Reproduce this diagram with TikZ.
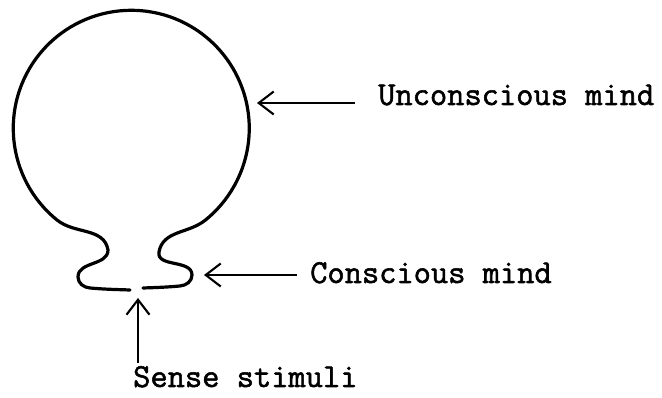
\documentclass[tikz,border=0pt]{standalone}
\usepackage{fontspec}
\newfontfamily\typewriter{Latin Modern Mono}[FakeBold=1.6]
\usetikzlibrary{arrows.meta}
\tikzset{balloon/.style={line width=3.2pt, line cap=round, line join=round}}
\tikzset{pointer/.style={-{Straight Barb[length=15pt, width=23pt]}, line width=2.1pt}}
\tikzset{typed/.style={font=\typewriter\fontsize{33.5}{38}\selectfont, inner sep=0pt, anchor=base west}}

\begin{document}
\begin{tikzpicture}[x=1pt, y=1pt]
  \useasboundingbox (0,0) rectangle (662,398);

  % the balloon: big circle, narrow neck, two small lobes
  \draw[balloon] (130,108) to[out=178, in=-5] (90,110) to[out=175, in=-90] (78,121)
    to[out=90, in=-90] (108,148) to[out=100, in=-39] (57,178)
    arc[start angle=231, end angle=-51, radius=118pt]
    to[out=219, in=80] (159,146) to[out=-100, in=90] (192,123)
    to[out=-90, in=5] (180,112) to[out=185, in=2] (143,110);

  \node[typed] (unc) at (378,293) {Unconscious mind};
  \node[typed] (con) at (310,115) {Conscious mind};
  \node[typed] (sense) at (133,11) {Sense stimuli};

  \coordinate (unctail) at (355,295);
  \coordinate (unctip) at (257,295);
  \coordinate (contail) at (297,123);
  \coordinate (contip) at (204,123);
  \coordinate (sensetail) at (138,35);
  \coordinate (sensetip) at (138,100);

  \draw[pointer] (unctail) -- (unctip);
  \draw[pointer] (contail) -- (contip);
  \draw[pointer] (sensetail) -- (sensetip);
\end{tikzpicture}
\end{document}
